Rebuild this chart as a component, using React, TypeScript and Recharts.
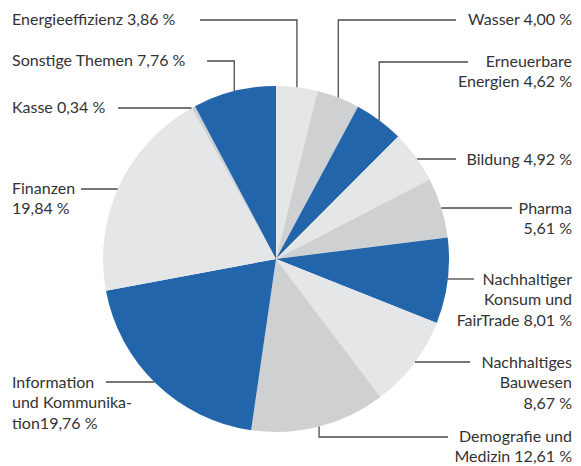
import { Pie, PieChart, Cell } from "recharts"

const topics = [
  "Energieeffizienz", "Wasser", "Erneuerbare Energien", "Bildung", "Pharma",
  "Nachhaltiger Konsum und FairTrade", "Nachhaltiges Bauwesen", "Demografie und Medizin",
  "Information und Kommunikation", "Finanzen", "Kasse", "Sonstige Themen",
]
const shares = [3.86, 4.0, 4.62, 4.92, 5.61, 8.01, 8.67, 12.61, 19.76, 19.84, 0.34, 7.76]

// label text as printed, one entry per line
const labelLines = [
  ["Energieeffizienz 3,86 %"],
  ["Wasser 4,00 %"],
  ["Erneuerbare", "Energien 4,62 %"],
  ["Bildung 4,92 %"],
  ["Pharma", "5,61 %"],
  ["Nachhaltiger", "Konsum und", "FairTrade 8,01 %"],
  ["Nachhaltiges", "Bauwesen", "8,67 %"],
  ["Demografie und", "Medizin 12,61 %"],
  ["Information", "und Kommunika-", "tion19,76 %"],
  ["Finanzen", "19,84 %"],
  ["Kasse 0,34 %"],
  ["Sonstige Themen 7,76 %"],
]

const BLUE = "#2265ab"
const LIGHT = "#e5e6e8"
const MID = "#cfd0d2"
const fills = [LIGHT, MID, BLUE, LIGHT, MID, BLUE, LIGHT, MID, BLUE, LIGHT, MID, BLUE]

const data = topics.map((name, i) => ({ name, value: shares[i] }))

// label layout: text anchor point, leader line y / end x, vertical = leave the pie vertically first
type LabelPos = { tx: number; ty: number; anchor: "start" | "end"; ly: number; lx: number; vertical?: boolean }
const layout: LabelPos[] = [
  { tx: 12, ty: 25, anchor: "start", ly: 20, lx: 200, vertical: true },
  { tx: 572, ty: 25, anchor: "end", ly: 20, lx: 456, vertical: true },
  { tx: 572, ty: 67, anchor: "end", ly: 62, lx: 468, vertical: true },
  { tx: 572, ty: 165, anchor: "end", ly: 159, lx: 456 },
  { tx: 572, ty: 214, anchor: "end", ly: 208, lx: 512 },
  { tx: 572, ty: 285, anchor: "end", ly: 279, lx: 474 },
  { tx: 572, ty: 368, anchor: "end", ly: 362, lx: 470 },
  { tx: 572, ty: 442, anchor: "end", ly: 437, lx: 448, vertical: true },
  { tx: 12, ty: 388, anchor: "start", ly: 382, lx: 106 },
  { tx: 12, ty: 194, anchor: "start", ly: 189, lx: 81 },
  { tx: 12, ty: 113, anchor: "start", ly: 108, lx: 118 },
  { tx: 12, ty: 66, anchor: "start", ly: 61, lx: 207, vertical: true },
]

const RAD = Math.PI / 180
const LINE_H = 20.4

function renderLabel(props: any) {
  const { cx, cy, midAngle, outerRadius, index } = props
  const pos = layout[index]
  const r = outerRadius
  let d: string
  if (pos.vertical) {
    const ex = cx + r * Math.cos(-midAngle * RAD)
    const dy = Math.sqrt(Math.max(r * r - (ex - cx) * (ex - cx), 0))
    const ey = pos.ly < cy ? cy - dy : cy + dy
    d = `M${ex},${ey}V${pos.ly}H${pos.lx}`
  } else {
    const dx = Math.sqrt(Math.max(r * r - (pos.ly - cy) * (pos.ly - cy), 0))
    const ex = pos.lx > cx ? cx + dx : cx - dx
    d = `M${ex},${pos.ly}H${pos.lx}`
  }
  return (
    <g key={`lbl-${index}`}>
      <path d={d} stroke="#4a4a4a" strokeWidth={1.3} fill="none" />
      <text x={pos.tx} y={pos.ty} textAnchor={pos.anchor} fill="#333" fontSize={16} fontFamily="Lato, sans-serif">
        {labelLines[index].map((line, i) => (
          <tspan key={i} x={pos.tx} dy={i === 0 ? 0 : LINE_H}>{line}</tspan>
        ))}
      </text>
    </g>
  )
}

export default function App() {
  return (
    <div style={{ width: 581, height: 466, background: "#fff" }}>
      <style>{`body{margin:0}`}</style>
      <PieChart width={581} height={466} margin={{ top: 0, right: 0, bottom: 0, left: 0 }}>
        <Pie
          data={data}
          dataKey="value"
          nameKey="name"
          cx={276}
          cy={259}
          outerRadius={173}
          startAngle={90}
          endAngle={-270}
          stroke="none"
          label={renderLabel}
          labelLine={false}
          isAnimationActive={false}
        >
          {data.map((d, i) => (
            <Cell key={d.name} fill={fills[i]} />
          ))}
        </Pie>
      </PieChart>
    </div>
  )
}
